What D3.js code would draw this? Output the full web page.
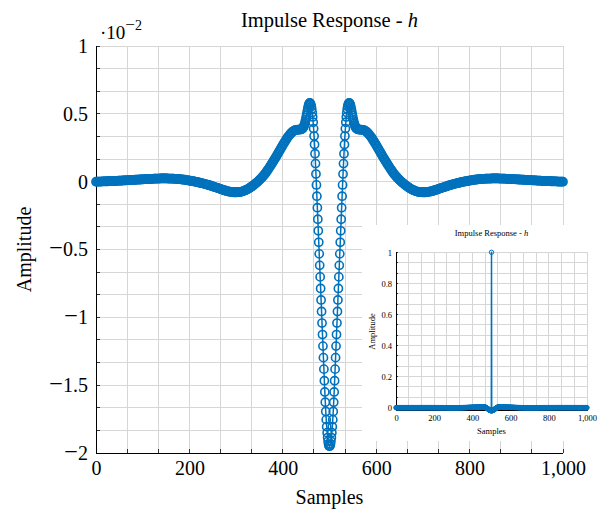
<!DOCTYPE html>
<html><head><meta charset="utf-8">
<script src="https://cdn.jsdelivr.net/npm/d3@7"></script>
<style>
body{margin:0;background:#fff}
svg{display:block}
text{font-family:"Liberation Serif","Times New Roman",serif;fill:#000}
</style>
</head><body><svg id="c" width="610" height="513"></svg>
<script>
// ---- data (amplitude in units of 10^-2) ----
const samples=[
0,2,4,6,8,10,12,14,16,18,20,22,24,26,28,30,32,34,36,38,40,42,44,46,48,50,52,54,56,58,60,62,64,66,68,70,72,74,76,78,80,82,84,86,88,90,92,94,96,98,
100,102,104,106,108,110,112,114,116,118,120,122,124,126,128,130,132,134,136,138,140,142,144,146,148,150,152,154,156,158,160,162,164,166,168,170,172,174,176,178,180,182,184,186,188,190,192,194,196,198,
200,202,204,206,208,210,212,214,216,218,220,222,224,226,228,230,232,234,236,238,240,242,244,246,248,250,252,254,256,258,260,262,264,266,268,270,272,274,276,278,280,282,284,286,288,290,292,294,296,298,
300,302,304,306,308,310,312,314,316,318,320,322,324,326,328,330,332,334,336,338,340,342,344,346,348,350,352,354,356,358,360,362,364,366,368,370,372,374,376,378,380,382,384,386,388,390,392,394,396,398,
400,402,404,406,408,410,412,414,416,418,420,422,424,426,428,430,432,434,436,438,440,
441,442,443,444,445,446,447,448,449,450,451,452,453,454,455,456,457,458,459,460,461,462,463,464,465,466,467,468,469,470,471,472,473,474,475,476,477,478,479,480,481,482,483,484,485,486,487,488,489,490,491,492,493,494,495,496,497,498,499,500,
501,502,503,504,505,506,507,508,509,510,511,512,513,514,515,516,517,518,519,520,521,522,523,524,525,526,527,528,529,530,531,532,533,534,535,536,537,538,539,540,541,542,543,544,545,546,547,548,549,550,551,552,553,554,555,556,557,558,559,
560,562,564,566,568,570,572,574,576,578,580,582,584,586,588,590,592,594,596,598,
600,602,604,606,608,610,612,614,616,618,620,622,624,626,628,630,632,634,636,638,640,642,644,646,648,650,652,654,656,658,660,662,664,666,668,670,672,674,676,678,680,682,684,686,688,690,692,694,696,698,
700,702,704,706,708,710,712,714,716,718,720,722,724,726,728,730,732,734,736,738,740,742,744,746,748,750,752,754,756,758,760,762,764,766,768,770,772,774,776,778,780,782,784,786,788,790,792,794,796,798,
800,802,804,806,808,810,812,814,816,818,820,822,824,826,828,830,832,834,836,838,840,842,844,846,848,850,852,854,856,858,860,862,864,866,868,870,872,874,876,878,880,882,884,886,888,890,892,894,896,898,
900,902,904,906,908,910,912,914,916,918,920,922,924,926,928,930,932,934,936,938,940,942,944,946,948,950,952,954,956,958,960,962,964,966,968,970,972,974,976,978,980,982,984,986,988,990,992,994,996,998,1000];
const amplitude=[
0.000,0.000,0.001,0.001,0.001,0.001,0.001,0.002,0.002,0.002,
0.002,0.002,0.003,0.003,0.004,0.004,0.004,0.004,0.004,0.005,
0.005,0.005,0.006,0.006,0.007,0.007,0.007,0.008,0.008,0.009,
0.009,0.009,0.010,0.010,0.011,0.011,0.011,0.012,0.012,0.013,
0.013,0.013,0.014,0.014,0.015,0.015,0.015,0.016,0.016,0.017,
0.017,0.017,0.018,0.018,0.019,0.019,0.019,0.020,0.020,0.021,
0.021,0.021,0.022,0.022,0.023,0.023,0.023,0.023,0.023,0.024,
0.024,0.024,0.024,0.024,0.024,0.024,0.024,0.023,0.023,0.023,
0.023,0.023,0.022,0.022,0.021,0.021,0.021,0.020,0.019,0.019,
0.018,0.017,0.016,0.015,0.015,0.014,0.013,0.011,0.010,0.009,
0.008,0.007,0.005,0.004,0.003,0.002,0.000,-0.001,-0.003,-0.004,
-0.006,-0.008,-0.009,-0.011,-0.012,-0.014,-0.016,-0.018,-0.020,-0.022,
-0.024,-0.026,-0.028,-0.030,-0.033,-0.035,-0.037,-0.040,-0.042,-0.044,
-0.046,-0.048,-0.051,-0.053,-0.056,-0.058,-0.060,-0.063,-0.065,-0.067,
-0.069,-0.071,-0.072,-0.074,-0.075,-0.076,-0.077,-0.078,-0.078,-0.078,
-0.078,-0.078,-0.077,-0.077,-0.076,-0.075,-0.073,-0.071,-0.069,-0.066,
-0.063,-0.060,-0.057,-0.053,-0.048,-0.044,-0.039,-0.034,-0.029,-0.024,
-0.018,-0.012,-0.007,-0.001,0.006,0.012,0.019,0.026,0.034,0.042,
0.050,0.059,0.068,0.078,0.088,0.098,0.109,0.120,0.130,0.141,
0.152,0.163,0.174,0.186,0.198,0.210,0.222,0.234,0.246,0.258,
0.270,0.281,0.292,0.303,0.314,0.325,0.334,0.343,0.352,0.359,
0.366,0.371,0.376,0.379,0.381,0.382,0.383,0.383,0.384,0.385,
0.386,
0.389,0.392,0.396,0.401,0.408,0.417,0.428,0.441,0.456,0.473,
0.491,0.510,0.528,0.545,0.560,0.571,0.578,0.580,0.577,0.568,
0.554,0.535,0.509,0.477,0.438,0.391,0.336,0.274,0.206,0.133,
0.056,-0.024,-0.107,-0.192,-0.277,-0.362,-0.447,-0.532,-0.617,-0.702,
-0.787,-0.872,-0.957,-1.042,-1.127,-1.212,-1.297,-1.382,-1.467,-1.550,
-1.626,-1.694,-1.754,-1.806,-1.850,-1.886,-1.914,-1.934,-1.946,
-1.950,
-1.946,-1.934,-1.914,-1.886,-1.850,-1.806,-1.754,-1.694,-1.626,
-1.550,-1.467,-1.382,-1.297,-1.212,-1.127,-1.042,-0.957,-0.872,-0.787,
-0.702,-0.617,-0.532,-0.447,-0.362,-0.277,-0.192,-0.107,-0.024,0.056,
0.133,0.206,0.274,0.336,0.391,0.438,0.477,0.509,0.535,0.554,
0.568,0.577,0.580,0.578,0.571,0.560,0.545,0.528,0.510,0.491,
0.473,0.456,0.441,0.428,0.417,0.408,0.401,0.396,0.392,0.389,
0.386,
0.385,0.384,0.383,0.383,0.382,0.381,0.379,0.376,0.371,0.366,
0.359,0.352,0.343,0.334,0.325,0.314,0.303,0.292,0.281,0.270,
0.258,0.246,0.234,0.222,0.210,0.198,0.186,0.174,0.163,0.152,
0.141,0.130,0.120,0.109,0.098,0.088,0.078,0.068,0.059,0.050,
0.042,0.034,0.026,0.019,0.012,0.006,-0.001,-0.007,-0.012,-0.018,
-0.024,-0.029,-0.034,-0.039,-0.044,-0.048,-0.053,-0.057,-0.060,-0.063,
-0.066,-0.069,-0.071,-0.073,-0.075,-0.076,-0.077,-0.077,-0.078,-0.078,
-0.078,-0.078,-0.078,-0.077,-0.076,-0.075,-0.074,-0.072,-0.071,-0.069,
-0.067,-0.065,-0.063,-0.060,-0.058,-0.056,-0.053,-0.051,-0.048,-0.046,
-0.044,-0.042,-0.040,-0.037,-0.035,-0.033,-0.030,-0.028,-0.026,-0.024,
-0.022,-0.020,-0.018,-0.016,-0.014,-0.012,-0.011,-0.009,-0.008,-0.006,
-0.004,-0.003,-0.001,0.000,0.002,0.003,0.004,0.005,0.007,0.008,
0.009,0.010,0.011,0.013,0.014,0.015,0.015,0.016,0.017,0.018,
0.019,0.019,0.020,0.021,0.021,0.021,0.022,0.022,0.023,0.023,
0.023,0.023,0.023,0.024,0.024,0.024,0.024,0.024,0.024,0.024,
0.024,0.023,0.023,0.023,0.023,0.023,0.022,0.022,0.021,0.021,
0.021,0.020,0.020,0.019,0.019,0.019,0.018,0.018,0.017,0.017,
0.017,0.016,0.016,0.015,0.015,0.015,0.014,0.014,0.013,0.013,
0.013,0.012,0.012,0.011,0.011,0.011,0.010,0.010,0.009,0.009,
0.009,0.008,0.008,0.007,0.007,0.007,0.006,0.006,0.005,0.005,
0.005,0.004,0.004,0.004,0.004,0.004,0.003,0.003,0.002,0.002,
0.002,0.002,0.002,0.001,0.001,0.001,0.001,0.001,0.000,0.000];
// inset: same response with the unit impulse at the centre sample
const insetSpikeSample=[500];
const insetSpikeValue=[1];

const xTickValues=[0,200,400,600,800,1000];
const xTickLabels=["0","200","400","600","800","1,000"];
const yTickValues=[-2,-1.5,-1,-0.5,0,0.5,1];
const yTickLabels=["\u22122","\u22121.5","\u22121","\u22120.5","0","0.5","1"];
const insetYTickValues=[0,0.2,0.4,0.6,0.8,1];
const insetYTickLabels=["0","0.2","0.4","0.6","0.8","1"];

const COLOR="#0072BD", GRID="#d6d6d6";
const svg=d3.select("#c");
if(samples.length!==amplitude.length) console.error("length mismatch",samples.length,amplitude.length);

// draw a leading minus sign slightly wider, like a math minus
function widenMinus(sel,fs){
  sel.each(function(){
    const s=this.textContent;
    if(s.charAt(0)==="\u2212"){
      const el=d3.select(this); el.text(null);
      el.append("tspan").attr("font-size",fs*1.22).text("\u2212");
      el.append("tspan").text(s.slice(1));
    }
  });
}

function panel(o){
  const g=svg.append("g");
  const x=d3.scaleLinear().domain(o.xDomain).range(o.xRange);
  const y=d3.scaleLinear().domain(o.yDomain).range(o.yRange);
  if(o.bg) g.append("rect").attr("x",o.bg[0]).attr("y",o.bg[1]).attr("width",o.bg[2]).attr("height",o.bg[3]).attr("fill","#fff");
  const xg=d3.range(0,16).map(i=>o.xDomain[0]+i*(o.xDomain[1]-o.xDomain[0])/15);
  const yg=o.yGrid;
  const gg=g.append("g").attr("stroke",GRID).attr("stroke-width",o.gw).attr("shape-rendering","crispEdges");
  gg.selectAll(".vx").data(xg).join("line").attr("x1",d=>x(d)).attr("x2",d=>x(d)).attr("y1",o.yRange[0]).attr("y2",y(o.yTopGrid));
  gg.selectAll(".hy").data(yg).join("line").attr("y1",d=>y(d)).attr("y2",d=>y(d)).attr("x1",o.xRange[0]).attr("x2",o.xRange[1]);
  const tk=g.append("g").attr("stroke","#333").attr("stroke-width",o.gw).attr("shape-rendering","crispEdges");
  tk.selectAll(".tx").data(xg).join("line").attr("x1",d=>x(d)).attr("x2",d=>x(d)).attr("y1",o.yRange[0]).attr("y2",o.yRange[0]-o.tl);
  tk.selectAll(".ty").data(yg).join("line").attr("y1",d=>y(d)).attr("y2",d=>y(d)).attr("x1",o.xRange[0]).attr("x2",o.xRange[0]+o.tl);
  g.append("path").attr("d",`M${o.xRange[0]},${y(o.yTopGrid)}V${o.yRange[0]}H${o.xRange[1]}`).attr("fill","none").attr("stroke","#000").attr("stroke-width",o.aw).attr("shape-rendering","crispEdges");
  const ax=g.append("g").attr("transform",`translate(0,${o.yRange[0]})`)
    .call(d3.axisBottom(x).tickValues(o.xt).tickFormat((d,i)=>o.xl[i]).tickSize(0).tickPadding(o.xpad));
  const ay=g.append("g").attr("transform",`translate(${o.xRange[0]},0)`)
    .call(d3.axisLeft(y).tickValues(o.yt).tickFormat((d,i)=>o.yl[i]).tickSize(0).tickPadding(o.ypad));
  [ax,ay].forEach(a=>{a.select(".domain").remove();a.selectAll("text").attr("font-size",o.fs).attr("font-family","Liberation Serif");});
  widenMinus(ay.selectAll("text"),o.fs);
  const line=d3.line().x(d=>x(d.s)).y(d=>y(d.v));
  g.append("path").datum(o.rows).attr("d",line).attr("fill","none").attr("stroke",COLOR).attr("stroke-width",o.lw).attr("stroke-linejoin","round");
  g.append("g").selectAll("circle").data(o.rows).join("circle")
    .attr("cx",d=>x(d.s)).attr("cy",d=>y(d.v)).attr("r",o.r)
    .attr("fill","none").attr("stroke",COLOR).attr("stroke-width",o.mw);
  const cx=(o.xRange[0]+o.xRange[1])/2;
  const t=g.append("text").attr("x",cx).attr("y",o.titleY).attr("text-anchor","middle").attr("font-size",o.tfs);
  t.append("tspan").text("Impulse Response - ");
  t.append("tspan").attr("font-style","italic").text("h");
  g.append("text").attr("x",cx).attr("y",o.xlabY).attr("text-anchor","middle").attr("font-size",o.lfs).text("Samples");
  g.append("text").attr("transform",`translate(${o.ylabX},${(o.yRange[0]+o.yRange[1])/2}) rotate(-90)`).attr("text-anchor","middle").attr("font-size",o.lfs).text("Amplitude");
  return {x,y,g};
}

const mainRows=samples.map((s,i)=>({s,v:amplitude[i]}));
panel({
  xDomain:[0,1000],xRange:[96,563],yDomain:[-2,1],yRange:[453,46],
  yGrid:d3.range(0,19).map(i=>-2+i/6),yTopGrid:1,
  gw:1,aw:1,tl:4,fs:20,tfs:20.5,lfs:20,xpad:8,ypad:8,
  xt:xTickValues,xl:xTickLabels,yt:yTickValues,yl:yTickLabels,
  rows:mainRows,lw:1.5,r:4.1,mw:1.6,
  titleY:27,xlabY:504,ylabX:31
});
const ex=svg.append("text").attr("x",100).attr("y",39).attr("font-size",19);
ex.append("tspan").text("\u00b710");
ex.append("tspan").attr("dy",-9).attr("font-size",17).text("\u2212");
ex.append("tspan").attr("font-size",14).text("2");

const insetRows=samples.map((s,i)=>({s,v:s===insetSpikeSample[0]?insetSpikeValue[0]:amplitude[i]/100}));
panel({
  bg:[362,225,248,216],
  xDomain:[0,1000],xRange:[396,587],yDomain:[-0.0195,1],yRange:[410.7,252.3],
  yGrid:d3.range(0,16).map(i=>i/15),yTopGrid:1,
  gw:1,aw:1,tl:2,fs:8.5,tfs:8.5,lfs:8.5,xpad:4,ypad:4,
  xt:xTickValues,xl:xTickLabels,yt:insetYTickValues,yl:insetYTickLabels,
  rows:insetRows,lw:1.5,r:2.2,mw:1,
  titleY:235.5,xlabY:434,ylabX:375
});
</script></body></html>
